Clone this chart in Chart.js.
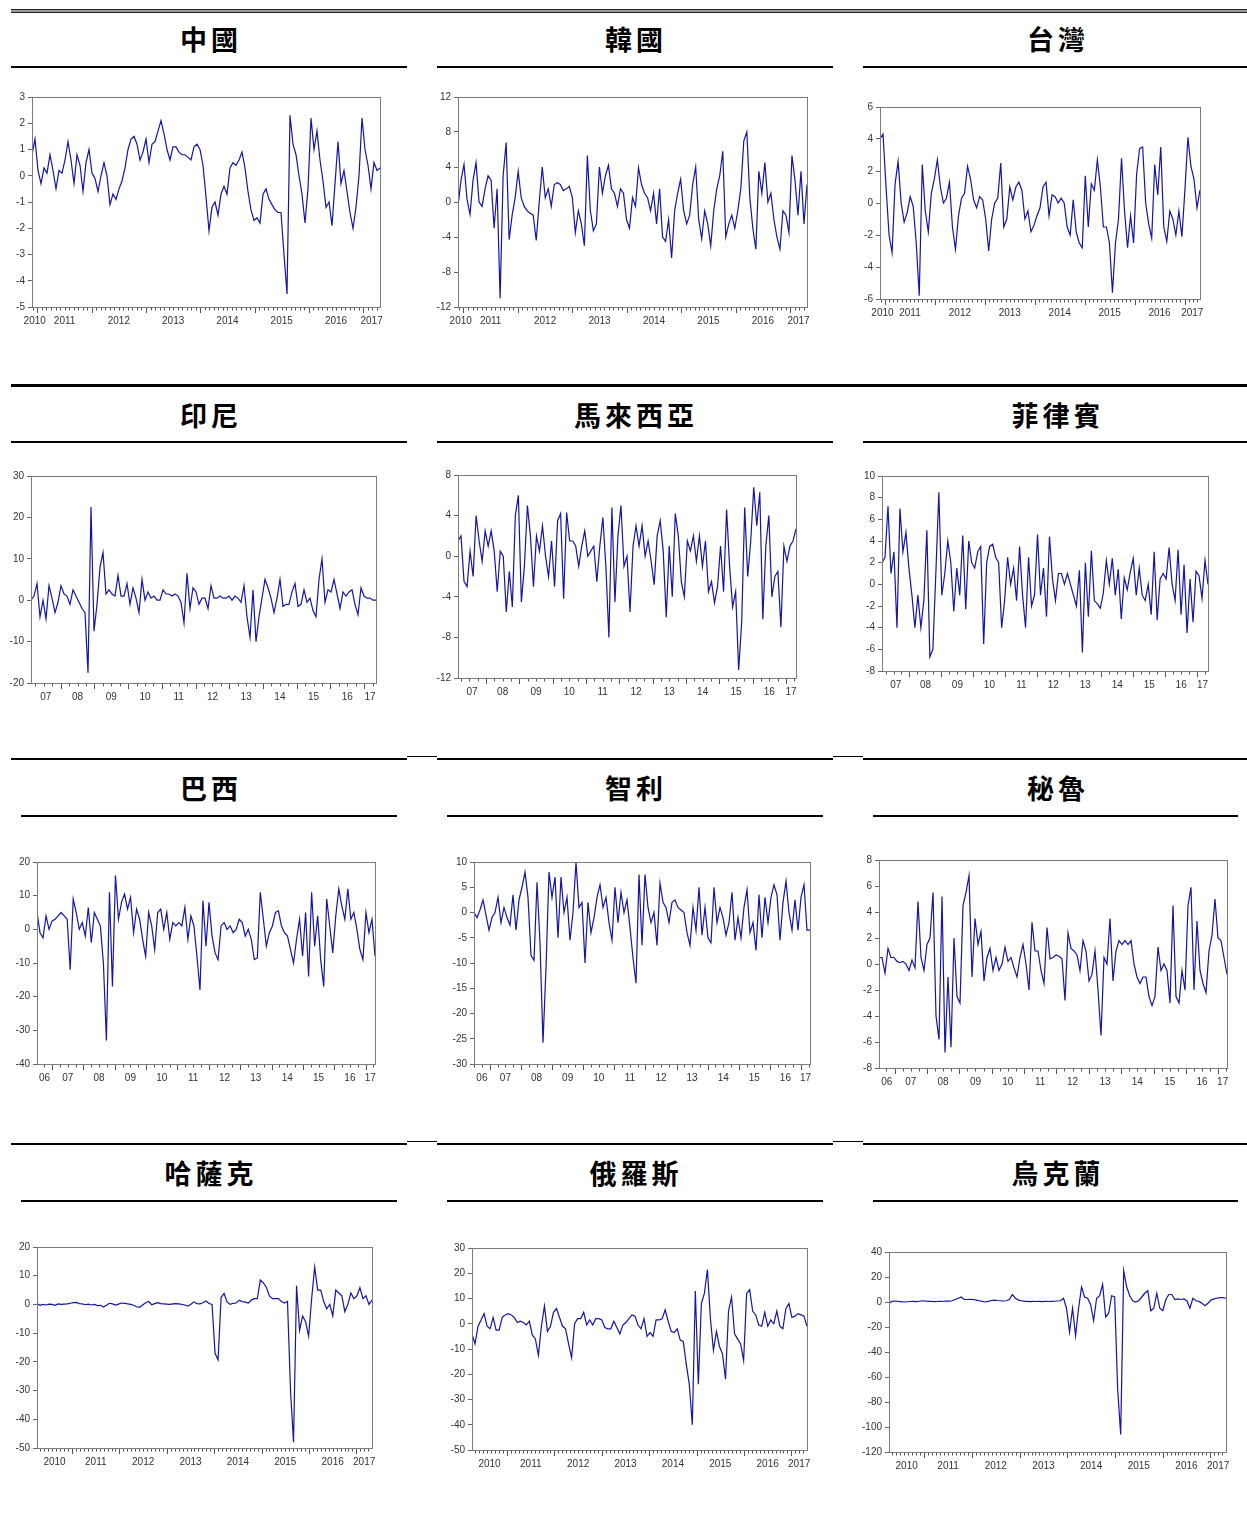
<!DOCTYPE html>
<html>
<head>
<meta charset="utf-8">
<script src="https://cdn.jsdelivr.net/npm/chart.js@4.4.0/dist/chart.umd.min.js"></script>
<style>
body{margin:0;background:#fff;width:1247px;height:1523px;position:relative;overflow:hidden}
.t{position:absolute;width:300px;text-align:center;font:700 27px "Noto Sans CJK TC",sans-serif;letter-spacing:4px;text-indent:4px;line-height:30px;color:#000}
.ln{position:absolute;background:#000}
canvas{position:absolute}
</style>
</head>
<body>
<!-- separators -->
<div class="ln" style="left:11px;top:9px;width:1236px;height:1px;background:#222"></div>
<div class="ln" style="left:11px;top:10px;width:1236px;height:2px;background:#9a9a9a"></div>
<div class="ln" style="left:11px;top:12px;width:1236px;height:1px;background:#222"></div>
<div class="ln" style="left:11px;top:384px;width:1236px;height:3px"></div>
<div class="ln" style="left:11px;top:758px;width:396px;height:2px"></div>
<div class="ln" style="left:407px;top:756px;width:30px;height:1px"></div>
<div class="ln" style="left:437px;top:758px;width:396px;height:2px"></div>
<div class="ln" style="left:833px;top:756px;width:30px;height:1px"></div>
<div class="ln" style="left:863px;top:758px;width:384px;height:2px"></div>
<div class="ln" style="left:11px;top:1143px;width:396px;height:2px"></div>
<div class="ln" style="left:407px;top:1141px;width:30px;height:1px"></div>
<div class="ln" style="left:437px;top:1143px;width:396px;height:2px"></div>
<div class="ln" style="left:833px;top:1141px;width:30px;height:1px"></div>
<div class="ln" style="left:863px;top:1143px;width:384px;height:2px"></div>
<!-- title underlines -->
<div class="ln" style="left:11px;top:66px;width:396px;height:2px"></div>
<div class="ln" style="left:437px;top:66px;width:396px;height:2px"></div>
<div class="ln" style="left:863px;top:66px;width:384px;height:2px"></div>
<div class="ln" style="left:11px;top:441px;width:396px;height:2px"></div>
<div class="ln" style="left:437px;top:441px;width:396px;height:2px"></div>
<div class="ln" style="left:863px;top:441px;width:384px;height:2px"></div>
<div class="ln" style="left:21px;top:815px;width:376px;height:2px"></div>
<div class="ln" style="left:447px;top:815px;width:376px;height:2px"></div>
<div class="ln" style="left:873px;top:815px;width:365px;height:2px"></div>
<div class="ln" style="left:21px;top:1200px;width:376px;height:2px"></div>
<div class="ln" style="left:447px;top:1200px;width:376px;height:2px"></div>
<div class="ln" style="left:873px;top:1200px;width:365px;height:2px"></div>

<script>
// weekly series (evenly spaced weeks between start and end)
var chinaVals = [0.8,1.4,0.2,-0.3,0.3,0.1,0.8,0.2,-0.5,0.2,
  0.1,0.6,1.3,0.6,-0.3,0.8,0.4,-0.6,0.5,1.0,
  0.1,-0.1,-0.6,0.0,0.5,0.0,-1.1,-0.7,-0.9,-0.5,
  -0.2,0.3,1.0,1.4,1.5,1.2,0.6,0.9,1.4,0.5,
  1.2,1.3,1.7,2.1,1.6,1.0,0.6,1.1,1.1,0.9,
  0.8,0.8,0.7,0.6,1.1,1.2,1.0,0.4,-0.8,-2.1,
  -1.2,-1.0,-1.5,-0.7,-0.4,-0.7,0.3,0.5,0.4,0.6,
  0.9,0.3,-0.6,-1.3,-1.7,-1.6,-1.8,-0.7,-0.5,-0.9,
  -1.1,-1.3,-1.4,-1.4,-3.0,-4.5,2.3,1.2,0.8,0.0,
  -0.7,-1.8,-0.5,2.2,1.0,1.7,0.6,-0.2,-1.2,-1.0,
  -1.9,-0.3,1.3,-0.3,0.2,-0.6,-1.4,-2.0,-1.2,0.0,
  2.2,1.0,0.4,-0.5,0.5,0.2,0.3];

var koreaVals = [-0.5,2.5,4.3,0.3,-1.4,2.5,4.5,0,-0.5,1.5,
  3.0,2.5,-3.0,1.5,-11.0,3.0,6.8,-4.3,-1.5,0.5,
  3.5,0.5,-0.5,-1.0,-1.3,-1.5,-4.4,0,4.0,0.5,
  1.5,-0.5,2.0,2.2,2.0,1.3,1.5,1.8,0.5,-3.5,
  -1.0,-2.5,-5.0,5.3,-1.0,-3.3,-2.5,4.0,1.0,3.0,
  4.2,1.5,1.0,-0.5,1.5,1.0,-2.0,-3.0,0.5,-0.5,
  3.9,2.0,1.0,0.5,-1.0,1.0,-2.5,1.5,-4.0,-4.5,
  -2.0,-6.4,-1.0,1.0,2.6,-1.0,-2.5,-1.5,2.0,4.0,
  -2.0,-4.2,-1.0,-2.5,-5.0,-1.0,1.5,3.0,5.8,-4.0,
  -2.5,-1.5,-3.0,-1.0,1.5,7.0,8.0,0.5,-3.0,-5.4,
  3.5,1.0,4.5,0.0,1.0,-2.0,-4.0,-5.4,-1.0,-1.5,
  -3.5,5.3,2.5,-1.5,3.5,-2.5,2.0];

var taiwanVals = [4.0,4.3,1.0,-2.0,-3.1,1.2,2.6,0.0,-1.2,-0.6,
  0.4,-0.2,-2.5,-5.8,2.4,-0.5,-1.8,0.6,1.5,2.7,
  1.0,0.0,0.3,1.3,-1.5,-2.9,-0.8,0.3,0.6,2.3,
  1.5,0.2,-0.3,0.4,0.2,-1.0,-3.0,-1.0,0.0,0.3,
  2.5,-1.5,-1.0,1.0,0.2,1.0,1.3,0.8,-1.0,-0.5,
  -1.8,-1.4,-0.8,-0.3,1.0,1.3,-0.8,0.5,0.4,0.0,
  0.3,0.0,-1.5,-2.0,0.2,-1.8,-2.5,-2.8,1.7,-1.5,
  1.2,0.8,2.7,1.0,-1.5,-1.5,-2.5,-5.6,-2.5,-1.0,
  2.8,-0.5,-2.8,-0.8,-2.5,1.8,3.4,3.5,0.0,-1.3,
  -2.2,2.4,0.5,3.5,-1.5,-2.4,-0.5,-1.0,-2.0,-0.5,
  -2.1,0.8,4.1,2.3,1.5,-0.3,0.8];

var indonesiaVals = [0,1.0,4.0,-4.0,0,-4.5,3.5,0.5,-3.0,-0.5,
  3.5,1.5,1.0,-1.0,2.5,1.0,-0.5,-2.0,-3.0,-17.5,
  22.5,-7.5,-1.0,8.0,11.5,1.5,2.5,1.5,1.0,6.0,
  1.0,1.0,4.0,-1.0,3.0,0.5,-3.0,5.0,0.0,2.0,
  0.5,1.0,0.0,0.0,2.5,1.5,1.5,1.0,1.5,1.0,
  -0.5,-5.5,6.5,-2.0,3.0,2.0,-1.0,0.5,0.5,-2.0,
  3.5,0.5,0.5,1.0,0.5,0.5,1.0,0.0,1.0,0.5,
  -0.5,3.5,-4.0,-9.0,2.5,-10.0,-4.0,0.5,5.0,3.0,
  0.5,-3.0,0.5,5.0,-1.5,-1.0,-1.0,2.0,4.0,-1.5,
  -1.0,2.5,-0.5,0.5,-2.5,-4.0,5.0,10.0,-0.5,2.5,
  2.0,5.0,1.5,-2.0,2.0,1.0,2.0,2.5,-1.0,-3.5,
  3.0,1.0,0.5,0.5,0.0,0.0];

var malaysiaVals = [1.5,2.0,-2.5,-3.0,0.5,-2.0,4.0,1.5,-0.5,2.5,
  1.0,2.5,0.5,-3.5,0.5,0.0,-5.5,-1.5,-5.0,4.0,
  6.0,-4.5,-1.0,5.0,2.0,-3.0,2.0,0.5,3.0,0.0,
  -2.0,1.5,-3.0,3.5,4.2,-4.2,4.3,1.5,1.5,1.0,
  -1.0,1.0,2.5,0.0,0.5,1.0,-2.5,1.0,3.8,-1.0,
  -8.0,4.8,-4.5,2.0,5.0,-1.0,0.0,-5.5,1.0,3.0,
  1.0,3.0,0.0,1.5,-0.5,-2.8,2.0,3.5,0.5,-6.0,
  1.0,-4.0,4.2,2.0,-2.5,-4.0,1.5,0.5,2.0,-0.5,
  2.0,-1.0,1.5,-3.5,-2.5,-4.6,-3.0,1.0,-3.5,4.6,
  -1.0,-5.0,-3.5,-11.2,-6.5,4.8,-2.0,1.5,6.8,3.0,
  6.3,-6.2,1.0,4.0,-4.0,-2.0,-1.5,-7.0,1.0,-0.5,
  1.0,1.5,2.7];

var philippinesVals = [2.0,2.5,7.2,1.0,3.0,-4.0,7.0,3.0,4.8,1.5,
  -1.0,-4.0,-1.0,-4.0,-1.5,5.0,-6.7,-6.0,1.0,8.5,
  -1.0,1.0,4.0,2.0,-2.5,1.5,-1.0,4.5,-2.3,4.0,
  2.0,1.5,3.0,3.5,-5.5,2.0,3.5,3.7,2.5,2.0,
  -4.0,-1.5,2.5,0.0,1.5,-1.5,3.5,-1.0,-4.0,2.5,
  -2.0,-1.0,4.6,-1.0,1.5,-3.0,4.4,0.5,-1.5,1.0,
  1.0,0.0,1.0,0.0,-1.0,-2.0,1.3,-6.3,2.0,-3.0,
  3.1,-1.5,-1.8,-2.2,-0.8,2.2,0.0,2.4,-1.0,1.4,
  -3.2,0.6,-0.5,1.1,2.4,-1.0,1.5,-1.0,-1.5,0.0,
  -2.8,3.0,-3.3,0.5,1.0,0.5,3.4,0.0,-1.5,3.2,
  -2.8,1.8,-4.5,0.5,-3.5,1.2,0.8,-1.3,2.2,0.0];

var brazilVals = [5.0,-1.0,-2.5,4.0,0.0,2.5,3.0,4.0,5.0,4.0,
  3.0,-12.0,9.0,5.0,0.0,2.0,-2.0,6.5,-4.0,5.0,
  3.0,1.0,-10.0,-33.0,11.0,-17.0,16.0,3.0,8.0,10.5,
  6.0,9.5,-1.0,6.0,3.0,-3.0,-8.0,5.0,1.0,-6.0,
  5.0,6.0,0.0,5.0,-3.0,2.0,1.0,2.0,1.0,6.5,
  -3.0,4.0,1.0,-8.0,-18.0,8.5,-5.0,8.0,-2.0,-7.0,
  -9.0,1.0,2.0,0.0,1.0,-1.0,0.0,3.0,2.0,-2.0,
  0.0,-3.0,-9.0,-8.5,11.0,3.0,-5.0,-1.0,1.0,5.0,
  5.5,1.0,-1.0,-2.0,-6.0,-10.0,-3.0,3.0,-8.0,5.0,
  -14.0,11.0,-5.0,4.0,-9.0,-17.0,9.0,1.0,-7.0,4.0,
  12.0,7.0,3.0,12.0,3.0,5.0,0.0,-6.0,-9.0,5.0,
  -1.0,3.0,-8.0];

var chileVals = [0.0,-1.0,0.5,2.5,-0.5,-3.5,-1.0,0.0,3.0,-2.0,
  1.0,-1.0,-2.5,3.5,-3.5,2.5,5.0,8.0,3.0,-8.5,
  -9.5,6.0,-6.0,-25.8,-11.0,8.0,3.0,7.0,-5.0,7.0,
  0.0,3.0,-5.5,0.0,10.0,1.0,2.0,-10.0,2.0,-4.0,
  -1.0,3.0,5.5,1.0,3.0,-2.0,-5.5,5.0,-2.0,4.0,
  0.0,2.5,-3.0,-9.0,-14.0,7.5,-6.5,7.5,1.0,-2.0,
  0.0,-6.5,5.8,2.0,1.0,-2.0,2.0,2.5,1.0,0.5,
  0.0,-4.0,-6.5,1.0,-3.5,5.0,-4.5,1.0,-5.0,-6.0,
  5.0,-2.0,1.0,-1.0,-4.5,-2.0,4.0,-5.5,-1.0,-5.0,
  1.0,4.5,-4.0,-2.0,-7.5,3.5,-5.0,3.0,-2.0,3.0,
  5.5,3.5,-5.5,2.0,6.2,0.0,-3.5,2.5,-3.5,3.0,
  5.5,-3.5,-3.5];

var peruVals = [0.5,0.5,-0.7,1.2,0.5,0.5,0.2,0.1,0.2,0.0,
  -0.5,0.3,-0.3,4.8,0.5,-0.5,1.5,2.0,5.5,-4.0,
  -5.8,5.2,-6.8,-1.0,-6.4,2.0,-2.5,-3.0,4.5,5.5,
  6.8,-1.0,3.5,1.5,2.5,-1.3,0.5,1.2,-0.5,0.5,
  -0.5,0.0,1.3,0.2,0.5,-0.3,-1.0,0.5,1.5,0.0,
  -2.0,3.2,1.0,1.0,-0.5,-1.5,2.8,0.4,0.5,0.7,
  0.6,0.4,-2.8,2.4,1.2,1.0,0.7,-0.5,1.8,1.0,
  -1.3,-0.8,1.0,-2.0,-5.5,0.5,0.0,3.5,-1.3,1.0,
  1.8,1.5,1.8,1.5,1.8,0.0,-1.0,-1.5,-1.0,-1.0,
  -2.5,-3.2,-2.5,1.3,-0.5,0.0,-0.5,-3.0,4.5,-2.5,
  -3.0,-0.5,-2.0,4.5,5.9,-2.0,3.3,-0.5,-1.5,-2.2,
  1.0,2.2,5.0,2.0,1.8,0.5,-0.8];

var kazakhVals = [0.3,-0.3,0.0,-0.2,0.1,0.0,-0.3,0.2,0.0,0.1,
  0.2,0.4,0.6,0.7,0.3,0.2,-0.1,0.1,-0.2,0.0,
  -0.4,-0.3,-0.9,-0.3,0.4,0.2,-0.2,0.1,0.5,0.4,
  0.2,0.0,-0.3,-0.8,-1.0,-0.2,0.6,1.0,-0.1,0.3,
  0.6,0.3,0.2,0.1,0.0,0.2,0.3,0.2,0.0,-0.2,
  -0.6,0.1,0.9,0.3,0.2,0.6,1.2,0.3,0.0,-17.0,
  -19.3,2.5,3.8,0.8,0.0,0.4,0.5,1.5,1.0,0.8,
  0.5,1.5,2.0,2.0,8.5,7.5,6.0,3.0,2.0,2.0,
  2.0,1.0,0.5,1.0,-30.0,-48.0,6.5,-9.0,-4.0,-6.0,
  -11.0,2.0,13.0,5.0,5.0,1.0,-1.5,0.0,-4.0,5.0,
  4.0,3.0,-2.5,0.0,4.0,2.0,3.0,5.8,2.0,3.0,
  0.0,1.5];

var russiaVals = [-4.0,-8.0,-1.0,1.5,4.0,-1.0,-2.0,2.5,-2.5,-2.5,
  2.5,3.5,4.0,3.5,2.5,0.5,1.0,0.5,-0.5,1.0,
  -4.5,-6.0,-12.5,-1.0,7.0,-3.0,-1.0,4.5,6.0,2.5,
  -1.0,-2.0,-8.0,-13.5,0.0,2.0,2.0,4.5,-0.5,1.5,
  -0.5,2.0,2.0,1.5,-1.5,-2.0,-2.0,1.0,-1.5,-4.0,
  -0.5,0.5,2.0,3.5,3.0,-0.5,-2.0,2.0,-5.0,-3.5,
  -5.0,1.5,1.5,2.0,5.5,1.0,-3.0,-3.5,-2.0,-6.5,
  -7.0,-16.0,-24.0,-40.0,13.0,-24.0,8.0,12.0,21.5,2.0,
  -10.5,-3.0,-9.0,-12.0,-22.0,5.0,10.5,-4.0,-6.0,-8.0,
  -14.5,12.0,13.5,5.0,3.5,-0.5,-1.0,4.5,-1.0,1.5,
  0.0,5.0,-1.0,-2.0,6.0,8.0,2.5,3.0,4.0,3.5,
  3.0,-1.0];

var ukraineVals = [-1.0,0.5,0.8,0.5,0.3,0.0,0.2,0.4,0.5,0.3,
  0.6,1.0,0.8,0.5,0.6,0.3,0.4,0.5,0.6,0.8,
  0.7,1.0,2.0,3.0,4.0,2.0,2.0,2.2,2.0,1.5,
  1.0,0.5,0.0,0.5,1.2,1.5,1.2,1.0,0.8,1.0,
  2.0,6.0,3.0,1.5,1.0,0.5,0.5,0.3,0.5,0.4,
  0.5,0.3,0.5,0.4,0.5,0.6,0.8,1.0,3.0,-5.0,
  -24.0,-5.0,-27.0,-5.0,12.0,4.0,3.0,-2.0,-15.0,3.0,
  5.0,14.0,-12.0,-9.0,5.0,4.0,-70.0,-106.0,25.0,12.0,
  5.0,1.0,0.0,1.0,4.0,7.0,9.0,-7.0,-5.0,7.0,
  -5.0,-7.0,2.0,6.0,6.0,2.0,2.5,2.0,2.5,1.0,
  -5.0,3.0,1.0,0.5,-1.0,-3.0,-1.0,1.5,2.5,3.0,
  3.5,3.5,3.0];

// sample span in years for each block of charts
var spanA = [2010.9, 2017.31];   // 中國 韓國 台灣
var spanD = [2010.26, 2017.33];  // 哈薩克 俄羅斯 烏克蘭

var panels = [
  {title:'中國', vals:chinaVals, area:[32,97,380,307], span:spanA, y:[-5,3,1], short:false, minor:12},
  {title:'韓國', vals:koreaVals, area:[458,97,807,307], span:spanA, y:[-12,12,4], short:false, minor:12},
  {title:'台灣', vals:taiwanVals, area:[880,107,1200,299], span:spanA, y:[-6,6,2], short:false, minor:12},
  {title:'印尼', vals:indonesiaVals, area:[31,476,376,683], span:[2007.12,2017.35], y:[-20,30,10], short:true, minor:4},
  {title:'馬來西亞', vals:malaysiaVals, area:[458,475,796,678], span:[2007.16,2017.30], y:[-12,8,4], short:true, minor:4},
  {title:'菲律賓', vals:philippinesVals, area:[882,476,1208,671], span:[2007.14,2017.34], y:[-8,10,2], short:true, minor:4},
  {title:'巴西', vals:brazilVals, area:[37,862,375,1064], span:[2006.52,2017.30], y:[-40,20,10], short:true, minor:4},
  {title:'智利', vals:chileVals, area:[474,862,810,1064], span:[2006.49,2017.29], y:[-30,10,5], short:true, minor:4},
  {title:'秘魯', vals:peruVals, area:[879,860,1227,1068], span:[2006.52,2017.27], y:[-8,8,2], short:true, minor:4},
  {title:'哈薩克', vals:kazakhVals, area:[37,1247,372,1448], span:spanD, y:[-50,20,10], short:false, minor:12},
  {title:'俄羅斯', vals:russiaVals, area:[472,1248,807,1450], span:spanD, y:[-50,30,10], short:false, minor:12},
  {title:'烏克蘭', vals:ukraineVals, area:[889,1252,1226,1452], span:spanD, y:[-120,40,20], short:false, minor:12}
];

var titleX = [209, 634, 1056];
var titleY = [39, 415, 788, 1173];

var TICK_FONT = {family:'"Liberation Sans", Arial, sans-serif', size:10};
var PADL = 36, PADT = 8, PADR = 16, PADB = 24;

// frame round the plot and the year / minor tick marks under it
var frameTicks = {
  id:'frameTicks',
  afterDraw: function(chart, args, opts) {
    var ctx = chart.ctx, a = chart.chartArea, xs = chart.scales.x;
    ctx.save();
    ctx.strokeStyle = '#7c7c7c';
    ctx.lineWidth = 1;
    ctx.strokeRect(Math.round(a.left) + 0.5, Math.round(a.top) + 0.5,
      Math.round(a.right - a.left), Math.round(a.bottom - a.top));
    ctx.strokeStyle = '#555';
    var m = opts.minor;
    var k0 = Math.ceil(xs.min * m), k1 = Math.floor(xs.max * m);
    ctx.beginPath();
    for (var k = k0; k <= k1; k++) {
      var px = Math.round(xs.getPixelForValue(k / m)) + 0.5;
      var len = (k % m === 0) ? 5 : 2.5;
      ctx.moveTo(px, Math.round(a.bottom) + 1);
      ctx.lineTo(px, Math.round(a.bottom) + 1 + len);
    }
    ctx.stroke();
    ctx.restore();
  }
};

function yearMids(lo, hi) {
  var out = [];
  for (var y = Math.floor(lo); y < hi; y++) {
    var a = Math.max(y, lo), b = Math.min(y + 1, hi);
    if (b - a > 0.05) out.push({value:(a + b) / 2});
  }
  return out;
}

panels.forEach(function(p, i) {
  var t = document.createElement('div');
  t.className = 't';
  t.textContent = p.title;
  t.style.left = (titleX[i % 3] - 150) + 'px';
  t.style.top = (titleY[Math.floor(i / 3)] - 15) + 'px';
  document.body.appendChild(t);

  var l = p.area[0], top = p.area[1], r = p.area[2], b = p.area[3];
  var cv = document.createElement('canvas');
  cv.width = r - l + PADL + PADR;
  cv.height = b - top + PADT + PADB;
  cv.style.left = (l - PADL) + 'px';
  cv.style.top = (top - PADT) + 'px';
  document.body.appendChild(cv);

  var n = p.vals.length;
  var pts = p.vals.map(function(v, j) {
    return {x: p.span[0] + (p.span[1] - p.span[0]) * j / (n - 1), y: v};
  });

  new Chart(cv.getContext('2d'), {
    type:'line',
    data:{datasets:[{data:pts, borderColor:'#1414a6', borderWidth:1.2, pointRadius:0, tension:0, fill:false}]},
    options:{
      responsive:false,
      animation:false,
      events:[],
      layout:{padding:{top:PADT, right:PADR, left:0, bottom:0}},
      plugins:{legend:{display:false}, tooltip:{enabled:false}, frameTicks:{minor:p.minor}},
      scales:{
        x:{
          type:'linear', min:p.span[0], max:p.span[1],
          grid:{display:false, drawTicks:false},
          border:{display:false},
          afterBuildTicks:function(s){ s.ticks = yearMids(p.span[0], p.span[1]); },
          afterFit:function(s){ s.height = PADB; s.paddingLeft = 0; s.paddingRight = 0; },
          ticks:{
            autoSkip:false, maxRotation:0, padding:8, color:'#333', font:TICK_FONT,
            callback:function(v){ var y = String(Math.floor(v)); return p.short ? y.slice(2) : y; }
          }
        },
        y:{
          min:p.y[0], max:p.y[1],
          grid:{drawOnChartArea:false, tickLength:4, color:'#666'},
          border:{display:false},
          afterFit:function(s){ s.width = PADL; s.paddingTop = 0; s.paddingBottom = 0; },
          ticks:{stepSize:p.y[2], padding:3, color:'#333', font:TICK_FONT}
        }
      }
    },
    plugins:[frameTicks]
  });
});
</script>
</body>
</html>
